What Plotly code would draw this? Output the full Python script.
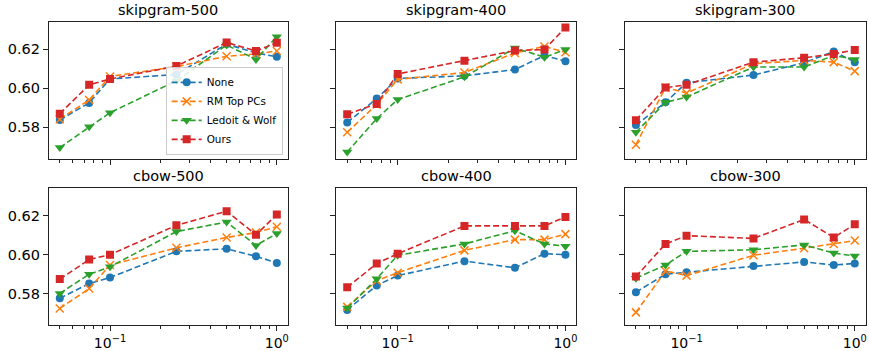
import plotly.graph_objects as go
from plotly.subplots import make_subplots

x_vals = [0.05, 0.075, 0.1, 0.25, 0.5, 0.75, 1.0]
panel_titles = ["skipgram-500", "skipgram-400", "skipgram-300", "cbow-500", "cbow-400", "cbow-300"]
series_names = ["None", "RM Top PCs", "Ledoit & Wolf", "Ours"]

sg500_none = [0.5838, 0.5925, 0.6047, 0.6070, 0.6225, 0.6180, 0.6160]
sg500_rm   = [0.5842, 0.5940, 0.6060, 0.6110, 0.6163, 0.6175, 0.6190]
sg500_lw   = [0.5697, 0.5803, 0.5875, 0.6038, 0.6220, 0.6147, 0.6263]
sg500_ours = [0.5870, 0.6017, 0.6047, 0.6113, 0.6233, 0.6190, 0.6232]

sg400_none = [0.5825, 0.5947, 0.6050, 0.6063, 0.6095, 0.6167, 0.6138]
sg400_rm   = [0.5775, 0.5917, 0.6045, 0.6080, 0.6180, 0.6213, 0.6183]
sg400_lw   = [0.5675, 0.5845, 0.5942, 0.6058, 0.6205, 0.6158, 0.6197]
sg400_ours = [0.5867, 0.5920, 0.6073, 0.6140, 0.6192, 0.6197, 0.6310]

sg300_none = [0.5812, 0.5928, 0.6028, 0.6067, 0.6130, 0.6187, 0.6133]
sg300_rm   = [0.5712, 0.6003, 0.5975, 0.6125, 0.6142, 0.6133, 0.6087]
sg300_lw   = [0.5775, 0.5928, 0.5955, 0.6108, 0.6108, 0.6167, 0.6147]
sg300_ours = [0.5837, 0.6003, 0.6017, 0.6133, 0.6155, 0.6175, 0.6195]

cb500_none = [0.5777, 0.5852, 0.5883, 0.6017, 0.6030, 0.5992, 0.5958]
cb500_rm   = [0.5725, 0.5827, 0.5947, 0.6035, 0.6088, 0.6113, 0.6143]
cb500_lw   = [0.5802, 0.5900, 0.5938, 0.6118, 0.6167, 0.6047, 0.6108]
cb500_ours = [0.5875, 0.5975, 0.6000, 0.6150, 0.6222, 0.6102, 0.6205]

cb400_none = [0.5717, 0.5843, 0.5893, 0.5967, 0.5933, 0.6005, 0.6000]
cb400_rm   = [0.5733, 0.5867, 0.5908, 0.6022, 0.6077, 0.6077, 0.6105]
cb400_lw   = [0.5727, 0.5877, 0.5997, 0.6055, 0.6122, 0.6055, 0.6043]
cb400_ours = [0.5833, 0.5955, 0.6005, 0.6147, 0.6147, 0.6147, 0.6193]

cb300_none = [0.5808, 0.5900, 0.5910, 0.5942, 0.5963, 0.5947, 0.5955]
cb300_rm   = [0.5705, 0.5917, 0.5893, 0.5997, 0.6033, 0.6055, 0.6072]
cb300_lw   = [0.5880, 0.5947, 0.6017, 0.6025, 0.6050, 0.6008, 0.5993]
cb300_ours = [0.5888, 0.6055, 0.6097, 0.6083, 0.6180, 0.6088, 0.6155]

y_ticks = [0.58, 0.60, 0.62]
y_tick_labels = ["0.58", "0.60", "0.62"]
x_ticks = [0.1, 1.0]
x_tick_labels = ["10<sup>\u22121</sup>", "10<sup>0</sup>"]
x_minor_ticks = [0.05, 0.06, 0.07, 0.08, 0.09, 0.2, 0.3, 0.4, 0.5, 0.6, 0.7, 0.8, 0.9]

panels = [
    [sg500_none, sg500_rm, sg500_lw, sg500_ours],
    [sg400_none, sg400_rm, sg400_lw, sg400_ours],
    [sg300_none, sg300_rm, sg300_lw, sg300_ours],
    [cb500_none, cb500_rm, cb500_lw, cb500_ours],
    [cb400_none, cb400_rm, cb400_lw, cb400_ours],
    [cb300_none, cb300_rm, cb300_lw, cb300_ours],
]

colors = ["#1f77b4", "#ff7f0e", "#2ca02c", "#d62728"]
symbols = ["circle", "x-thin", "triangle-down", "square"]
msizes = [8, 8, 9, 8]

W, H = 869, 351
fig = make_subplots(rows=2, cols=3)

xdoms = [(49, 288), (336.7, 577), (625.7, 866.7)]
ydoms = [(22, 162), (192, 331.7)]

for p, data in enumerate(panels):
    r, c = p // 3 + 1, p % 3 + 1
    for s, yv in enumerate(data):
        mk = dict(color=colors[s], size=msizes[s], symbol=symbols[s])
        if symbols[s] == "x-thin":
            mk["line"] = dict(color=colors[s], width=1.5)
        fig.add_trace(go.Scatter(
            x=x_vals, y=yv, mode="lines+markers", name=series_names[s],
            line=dict(color=colors[s], width=1.6, dash="6px,3px"),
            marker=mk, showlegend=(p == 0)), row=r, col=c)

for p in range(6):
    r, c = p // 3, p % 3
    xd = xdoms[c]
    yd = ydoms[r]
    axn = "" if p == 0 else str(p + 1)
    fig.layout["xaxis" + axn].update(
        domain=[xd[0] / W, xd[1] / W], type="log", range=[-1.366, 0.065],
        tickvals=x_ticks, ticktext=x_tick_labels,
        showticklabels=(r == 1),
        ticks="outside", ticklen=5, tickwidth=1, tickcolor="#222",
        minor=dict(tickmode="array", tickvals=x_minor_ticks, ticks="outside",
                   ticklen=3, tickwidth=0.8, tickcolor="#222", showgrid=False),
        showline=True, linecolor="#222", linewidth=1, mirror=True,
        showgrid=False, zeroline=False,
        tickfont=dict(family="DejaVu Sans", size=14, color="#000"))
    fig.layout["yaxis" + axn].update(
        domain=[1 - yd[1] / H, 1 - yd[0] / H], range=[0.564, 0.634],
        tickvals=y_ticks, ticktext=y_tick_labels, showticklabels=(c == 0),
        ticks="outside", ticklen=5, tickwidth=1, tickcolor="#222",
        showline=True, linecolor="#222", linewidth=1, mirror=True,
        showgrid=False, zeroline=False,
        tickfont=dict(family="DejaVu Sans", size=14.5, color="#000"))
    fig.add_annotation(text=panel_titles[p], xref="paper", yref="paper",
                       x=(xd[0] + xd[1]) / 2 / W, y=1 - (yd[0] - 2) / H,
                       xanchor="center", yanchor="bottom", showarrow=False,
                       font=dict(family="DejaVu Sans", size=14.5, color="#000"))

fig.update_layout(
    width=W, height=H, margin=dict(l=0, r=0, t=0, b=0),
    paper_bgcolor="white", plot_bgcolor="white",
    font=dict(family="DejaVu Sans"),
    legend=dict(x=283 / W, y=1 - 158 / H, xanchor="right", yanchor="bottom",
                bgcolor="rgba(255,255,255,0.85)", bordercolor="#cccccc", borderwidth=1,
                font=dict(family="DejaVu Sans", size=10.4, color="#000"),
                tracegroupgap=0, itemwidth=30),
)

fig.write_html("out.html", config={"displayModeBar": False},
               post_script="document.body.style.margin='0px';document.body.style.overflow='hidden';")
